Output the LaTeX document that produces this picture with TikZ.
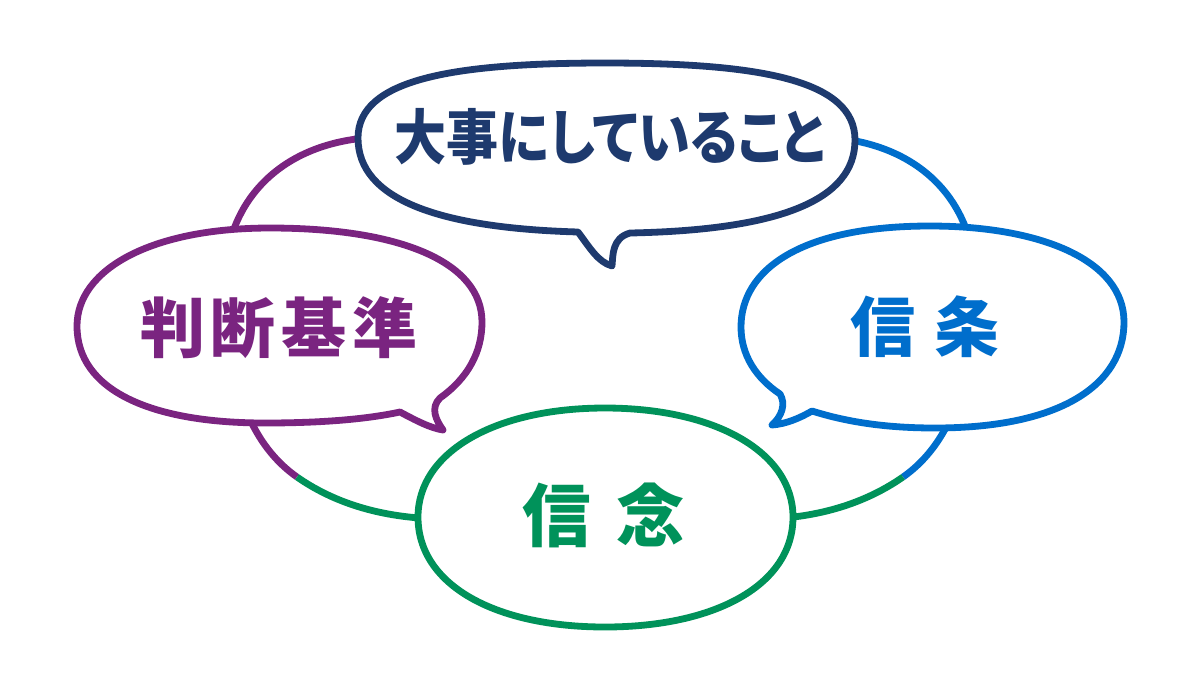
\documentclass[tikz,border=0pt]{standalone}
\usepackage{fontspec}
\newfontfamily\jpfont{Noto Sans CJK JP}
\newfontfamily\jpprop{Noto Sans CJK JP}[RawFeature=+palt]
\definecolor{navy}{RGB}{30,58,110}
\definecolor{plum}{RGB}{122,36,128}
\definecolor{sky}{RGB}{0,110,204}
\definecolor{leaf}{RGB}{0,146,90}

\begin{document}
\begin{tikzpicture}[x=0.01cm, y=-0.01cm, line width=0.068cm,
  bubble/.style={draw=#1, fill=white, line join=round},
  word/.style={text=#1, inner sep=0pt}]
\useasboundingbox (0,0) rectangle (1200,675);

% ring behind the bubbles
\coordinate (tl) at (380,137);
\coordinate (ml) at (228,250);
\coordinate (bl) at (297,477);
\coordinate (gl) at (440,519);
\coordinate (tr) at (820,137);
\coordinate (mr) at (972,250);
\coordinate (br) at (903,477);
\coordinate (gr) at (765,519);

\draw[plum] (tl) .. controls (290,140) and (240,190) .. (ml) .. controls (222,330) and (230,430) .. (bl);
\draw[leaf] (bl) .. controls (340,507) and (390,518) .. (gl);
\draw[sky] (tr) .. controls (910,140) and (960,190) .. (mr) .. controls (978,330) and (970,430) .. (br);
\draw[leaf] (br) .. controls (860,507) and (810,518) .. (gr);

% top bubble
\draw[bubble=navy] (855,140) .. controls (855,80) and (760,63) .. (605,63)
  .. controls (450,63) and (358,80) .. (358,138)
  .. controls (358,200) and (440,228) .. (578,232)
  .. controls (590,248) and (598,262) .. (612,266)
  .. controls (613,255) and (612,238) .. (630,233)
  .. controls (780,230) and (855,200) .. (855,140) -- cycle;

% left bubble
\draw[bubble=plum] (482,322) .. controls (482,262) and (400,228) .. (270,228)
  .. controls (150,228) and (77,270) .. (77,326)
  .. controls (77,390) and (150,423) .. (265,423)
  .. controls (330,423) and (372,418) .. (400,412)
  .. controls (415,420) and (430,428) .. (443,430)
  .. controls (436,420) and (430,408) .. (440,398)
  .. controls (468,378) and (482,352) .. (482,322) -- cycle;

% right bubble
\draw[bubble=sky] (1124,322) .. controls (1124,260) and (1040,226) .. (930,226)
  .. controls (800,226) and (741,270) .. (741,327)
  .. controls (741,355) and (756,378) .. (780,394)
  .. controls (786,404) and (782,416) .. (772,425)
  .. controls (786,424) and (800,418) .. (812,411)
  .. controls (850,423) and (890,428) .. (935,428)
  .. controls (1060,428) and (1124,385) .. (1124,322) -- cycle;

% bottom bubble
\draw[bubble=leaf] (793,517) .. controls (793,452) and (715,408) .. (605,408)
  .. controls (495,408) and (418,452) .. (418,517)
  .. controls (418,585) and (495,627) .. (605,627)
  .. controls (715,627) and (793,585) .. (793,517) -- cycle;

\node[word=navy, xscale=0.87, font={\jpprop\bfseries\fontsize{17pt}{17pt}\selectfont}] (core) at (610,137) {大事にしていること};
\node[word=plum, font={\jpfont\bfseries\fontsize{18.5pt}{18.5pt}\selectfont\addfontfeature{LetterSpace=9}}] (rule) at (279,328) {判断基準};
\node[word=sky, font={\jpfont\bfseries\fontsize{18.5pt}{18.5pt}\selectfont\addfontfeature{LetterSpace=28}}] (creed) at (925,327) {信条};
\node[word=leaf, font={\jpfont\bfseries\fontsize{19.5pt}{19.5pt}\selectfont\addfontfeature{LetterSpace=37}}] (belief) at (604,515) {信念};
\end{tikzpicture}
\end{document}
